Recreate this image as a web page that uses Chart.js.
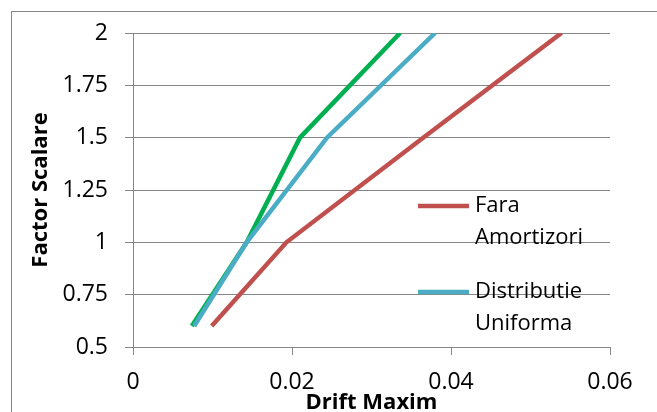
<!DOCTYPE html>
<html>
<head>
<meta charset="utf-8">
<script src="https://cdn.jsdelivr.net/npm/chart.js@4"></script>
<style>
  html, body { margin: 0; padding: 0; background: #fff; }
  #wrap { width: 657px; height: 412px; }
</style>
</head>
<body>
<div id="wrap"><canvas id="grafico" width="657" height="412"></canvas></div>
<script>
// valori
var factor = [0.6, 1, 1.5, 2];
var faraAmortizori = [0.0099, 0.0193, 0.0365, 0.0539];
var distributieUniforma = [0.0077, 0.0143, 0.0244, 0.038];
var altaSerie = [0.0074, 0.0143, 0.021, 0.0336];
var xTicks = [0, 0.02, 0.04, 0.06];
var yTicks = [0.5, 0.75, 1, 1.25, 1.5, 1.75, 2];

var numeSerii = [["Fara", "Amortizori"], ["Distributie", "Uniforma"], ""];
var culori = ["#C0504D", "#4BACC6", "#00B050"];

function puncte(xs){
    return xs.map(function(v, i){ return {x: v, y: factor[i]}; });
}

var gri = "#878787";
var font = "'Open Sans', sans-serif";

// chenarul exterior
var chenar = {
    id: 'chenar',
    beforeDraw: function(chart){
        var ctx = chart.ctx;
        ctx.save();
        ctx.strokeStyle = gri;
        ctx.lineWidth = 1;
        ctx.strokeRect(11.5, 11.5, 700, 500);
        ctx.restore();
    }
};

// legenda in interiorul graficului
var legenda = {
    id: 'legenda',
    afterDatasetsDraw: function(chart){
        var ctx = chart.ctx;
        var pozY = [206, 292];
        ctx.save();
        ctx.font = "22px " + font;
        ctx.textBaseline = "middle";
        ctx.fillStyle = "#000";
        for (var i = 0; i < 2; i++) {
            ctx.strokeStyle = culori[i];
            ctx.lineWidth = 4.5;
            ctx.beginPath();
            ctx.moveTo(418, pozY[i]);
            ctx.lineTo(469, pozY[i]);
            ctx.stroke();
            ctx.fillText(numeSerii[i][0], 475, pozY[i]);
            ctx.fillText(numeSerii[i][1], 475, pozY[i] + 32);
        }
        ctx.restore();
    }
};

var seturi = [faraAmortizori, distributieUniforma, altaSerie].map(function(s, i){
    return {
        label: Array.isArray(numeSerii[i]) ? numeSerii[i].join(" ") : numeSerii[i],
        data: puncte(s),
        showLine: true,
        borderColor: culori[i],
        backgroundColor: culori[i],
        borderWidth: 4.5,
        pointRadius: 0,
        tension: 0
    };
});

new Chart(document.getElementById("grafico"), {
    type: 'scatter',
    data: { datasets: seturi },
    plugins: [chenar, legenda],
    options: {
        responsive: false,
        animation: false,
        layout: { padding: { top: 33, right: 47, left: 0, bottom: 0 } },
        plugins: {
            legend: { display: false },
            tooltip: { enabled: false }
        },
        scales: {
            x: {
                type: 'linear',
                min: 0,
                max: 0.06,
                afterBuildTicks: function(ax){ ax.ticks = xTicks.map(function(v){ return {value: v}; }); },
                afterFit: function(ax){ ax.height = 65; },
                ticks: {
                    color: "#000",
                    font: { family: font, size: 23 },
                    padding: 14,
                    maxRotation: 0,
                    callback: function(v){ return String(v); }
                },
                grid: { drawOnChartArea: false, drawTicks: true, tickLength: 8, color: gri },
                border: { color: gri, width: 1 },
                title: {
                    display: true,
                    text: "Drift Maxim",
                    color: "#000",
                    font: { family: font, size: 22, weight: 'bold', lineHeight: 0.8 },
                    padding: { top: 0, bottom: 0 }
                }
            },
            y: {
                type: 'linear',
                min: 0.5,
                max: 2,
                afterBuildTicks: function(ax){ ax.ticks = yTicks.map(function(v){ return {value: v}; }); },
                afterFit: function(ax){ ax.width = 133; },
                ticks: {
                    color: "#000",
                    font: { family: font, size: 23 },
                    padding: 17,
                    callback: function(v){ return String(v); }
                },
                grid: { color: gri, tickLength: 8 },
                border: { color: gri, width: 1 },
                title: {
                    display: true,
                    text: "Factor Scalare",
                    color: "#000",
                    font: { family: font, size: 22, weight: 'bold' },
                    padding: { top: 28, bottom: 0 }
                }
            }
        }
    }
});
</script>
</body>
</html>
